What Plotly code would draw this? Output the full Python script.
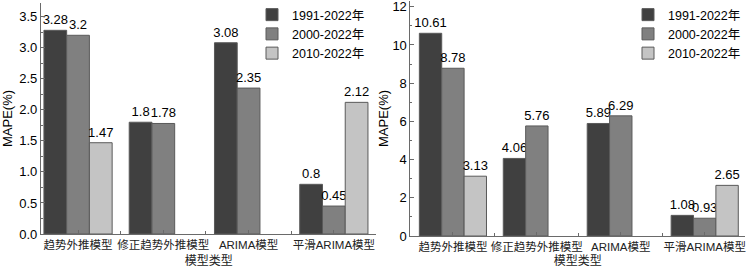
import plotly.graph_objects as go

categories = ["趋势外推模型", "修正趋势外推模型", "ARIMA模型", "平滑ARIMA模型"]
series_names = ["1991-2022年", "2000-2022年", "2010-2022年"]
left_values = [
    [3.28, 1.8, 3.08, 0.8],
    [3.2, 1.78, 2.35, 0.45],
    [1.47, None, None, 2.12],
]
right_values = [
    [10.61, 4.06, 5.89, 1.08],
    [8.78, 5.76, 6.29, 0.93],
    [3.13, None, None, 2.65],
]
colors = ["#404040", "#808080", "#c4c4c4"]

FONT = "Liberation Sans, Arial, Noto Sans CJK SC, sans-serif"
W, H = 746, 268

def fmt(v):
    if v is None:
        return ""
    return ("%g" % v)

fig = go.Figure()
xpos = list(range(len(categories)))
for side, vals in (("left", left_values), ("right", right_values)):
    for i, name in enumerate(series_names):
        fig.add_trace(go.Bar(
            x=xpos, y=vals[i], name=name,
            marker=dict(color=colors[i], line=dict(color="#5a5a5a", width=1)),
            text=[fmt(v) for v in vals[i]], textposition="outside",
            textfont=dict(size=13, color="black", family=FONT),
            constraintext="none", textangle=0, cliponaxis=False,
            xaxis="x" if side == "left" else "x2",
            yaxis="y" if side == "left" else "y2",
            legend="legend" if side == "left" else "legend2",
            hoverinfo="skip",
        ))

def px(x):
    return x / W

def py(y):
    return 1 - y / H

axis_common = dict(showline=True, linecolor="#6a6a6a", linewidth=1, showgrid=False,
                   zeroline=False, ticks="inside", ticklen=4, tickcolor="#6a6a6a",
                   automargin=False, ticklabeloverflow="allow",
                   tickfont=dict(size=13, family=FONT, color="black"))

xcommon = dict(axis_common, tickvals=xpos, ticktext=categories, tickangle=0,
               tickfont=dict(size=11.5, family=FONT, color="#222"),
               minor=dict(tickvals=[-0.5, 0.5, 1.5, 2.5, 3.5], ticks="inside", ticklen=3, tickcolor="#6a6a6a"),
               title=dict(text="模型类型", font=dict(size=12, family=FONT, color="#222"), standoff=7))

fig.update_layout(
    width=W, height=H, margin=dict(l=0, r=0, t=0, b=0),
    paper_bgcolor="white", plot_bgcolor="white",
    barmode="group", bargap=0.2, bargroupgap=0,
    font=dict(family=FONT, color="black"),
    xaxis=dict(xcommon, domain=[px(41), px(377)], range=[-0.435, 3.5], anchor="y"),
    yaxis=dict(axis_common, domain=[py(234), py(3)], range=[0, 3.72], dtick=0.5, tickformat=".1f",
               minor=dict(dtick=0.25, ticks="inside", ticklen=2, tickcolor="#6a6a6a"),
               title=dict(text="MAPE(%)", font=dict(size=13, family=FONT), standoff=6), anchor="x"),
    xaxis2=dict(xcommon, domain=[px(411), px(746)], range=[-0.506, 3.48], anchor="y2"),
    yaxis2=dict(axis_common, domain=[py(236), py(1)], range=[0, 12.3], dtick=2,
                minor=dict(dtick=1, ticks="inside", ticklen=2, tickcolor="#6a6a6a"),
                title=dict(text="MAPE(%)", font=dict(size=13, family=FONT), standoff=0), anchor="x2"),
    legend=dict(x=px(252), y=py(0), xanchor="left", yanchor="top", bgcolor="rgba(0,0,0,0)",
                font=dict(size=12.5, family=FONT), tracegroupgap=0, itemwidth=30),
    legend2=dict(x=px(629), y=py(0), xanchor="left", yanchor="top", bgcolor="rgba(0,0,0,0)",
                 font=dict(size=12.5, family=FONT), tracegroupgap=0, itemwidth=30),
)

fig.write_html("out.html", config={"displayModeBar": False},
               post_script="document.body.style.margin='0';document.body.style.overflow='hidden';")
